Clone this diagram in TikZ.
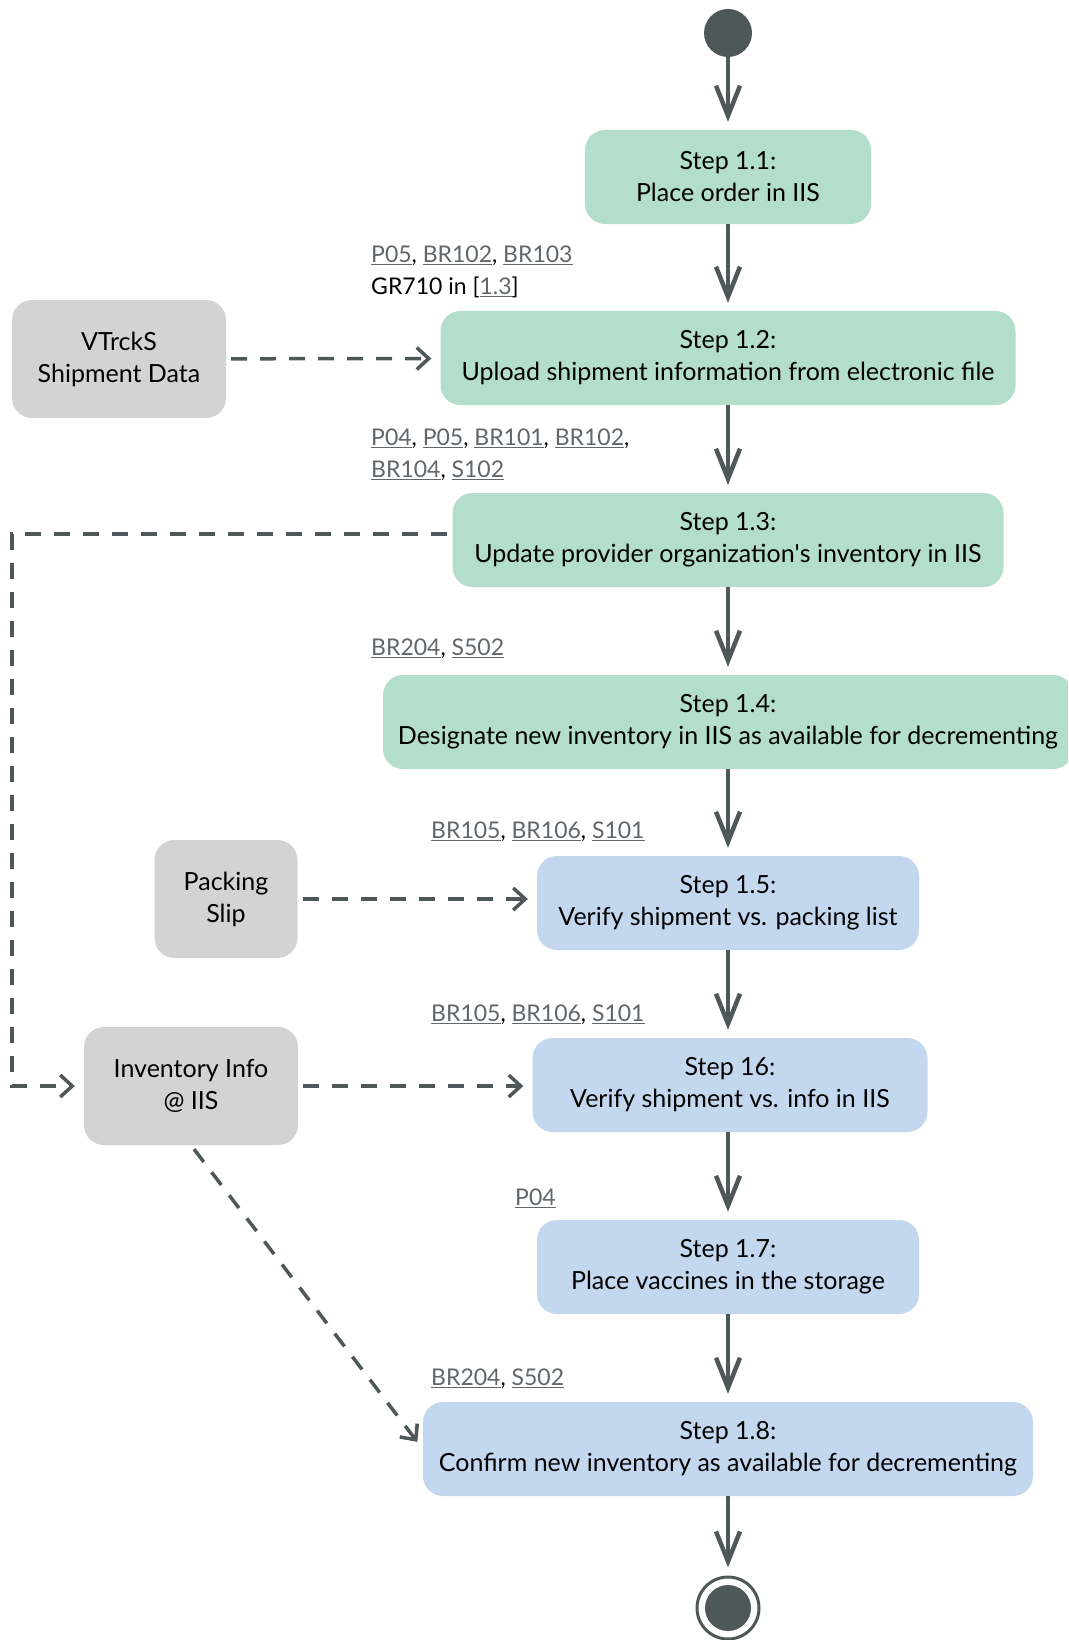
\documentclass[tikz,border=0pt]{standalone}
\usepackage{fontspec}
\setmainfont{Lato}
\usetikzlibrary{arrows.meta}
\definecolor{stepgrn}{HTML}{B3DECC}
\definecolor{stepblu}{HTML}{C3D8EF}
\definecolor{datagry}{HTML}{D3D3D3}
\definecolor{flowcol}{HTML}{4F5858}
\definecolor{lnkcol}{HTML}{60666A}
\newcommand{\lnk}[1]{\textcolor{lnkcol}{\underline{#1}}}
\tikzset{
  stepbox/.style={rounded corners=20pt, align=center, minimum height=94pt, inner sep=0pt},
  stepgreen/.style={stepbox, fill=stepgrn},
  stepblue/.style={stepbox, fill=stepblu},
  databox/.style={stepbox, fill=datagry, minimum height=118pt},
  flow/.style={draw=flowcol, line width=4.5pt, -{Straight Barb[length=30pt,width=24pt]}, shorten >=8pt},
  flowdash/.style={draw=flowcol, line width=3.5pt, dash pattern=on 16pt off 13pt, -{Straight Barb[length=12pt,width=22pt]}, shorten >=9pt, shorten <=5pt},
  reflabel/.style={anchor=west, inner sep=0pt, align=left, font=\fontsize{23}{32}\selectfont}
}
\begin{document}
\begin{tikzpicture}[x=1pt,y=-1pt,font=\fontsize{25}{32}\selectfont]
    \path[use as bounding box, clip] (0,0) rectangle (1068,1640);
    \node[circle, fill=flowcol, minimum size=48pt, inner sep=0pt] (start) at (728,33) {};
    \node[stepgreen, minimum width=286pt] (s11) at (728,177) {Step 1.1:\\Place order in IIS};
    \node[stepgreen, minimum width=575pt] (s12) at (728,358) {Step 1.2:\\Upload shipment information from electronic file};
    \node[stepgreen, minimum width=551pt] (s13) at (728,540) {Step 1.3:\\Update provider organization\textquotesingle s inventory in IIS};
    \node[stepgreen, minimum width=690pt] (s14) at (728,722) {Step 1.4:\\Designate new inventory in IIS as available for decrementing};
    \node[stepblue, minimum width=382pt] (s15) at (728,903) {Step 1.5:\\Verify shipment vs. packing list};
    \node[stepblue, minimum width=395pt] (s16) at (730,1085) {Step 16:\\Verify shipment vs. info in IIS};
    \node[stepblue, minimum width=382pt] (s17) at (728,1267) {Step 1.7:\\Place vaccines in the storage};
    \node[stepblue, minimum width=610pt] (s18) at (728,1449) {Step 1.8:\\Confirm new inventory as available for decrementing};
    \node[circle, draw=flowcol, line width=3pt, minimum size=62pt, inner sep=0pt] (stop) at (728,1608) {};
    \node[circle, fill=flowcol, minimum size=46pt, inner sep=0pt] at (stop) {};
    \node[databox, minimum width=214pt] (vtrcks) at (119,359) {VTrckS\\Shipment Data};
    \node[databox, minimum width=143pt] (slip) at (226,899) {Packing\\Slip};
    \node[databox, minimum width=214pt] (inv) at (191,1086) {Inventory Info\\@ IIS};
    \coordinate (lft) at (12,800);
    \node[reflabel] (r12) at (371,272) {\lnk{P05}, \lnk{BR102}, \lnk{BR103}\\GR710 in [\lnk{1.3}]};
    \node[reflabel] (r13) at (371,455) {\lnk{P04}, \lnk{P05}, \lnk{BR101}, \lnk{BR102},\\\lnk{BR104}, \lnk{S102}};
    \node[reflabel] (r14) at (371,649) {\lnk{BR204}, \lnk{S502}};
    \node[reflabel] (r15) at (431,832) {\lnk{BR105}, \lnk{BR106}, \lnk{S101}};
    \node[reflabel] (r16) at (431,1015) {\lnk{BR105}, \lnk{BR106}, \lnk{S101}};
    \node[reflabel] (r17) at (515,1198) {\lnk{P04}};
    \node[reflabel] (r18) at (431,1379) {\lnk{BR204}, \lnk{S502}};
    \draw[flow] (start) -- (s11);
    \draw[flow] (s11) -- (s12);
    \draw[flow] (s12) -- (s13);
    \draw[flow] (s13) -- (s14);
    \draw[flow] (s14) -- (s15);
    \draw[flow] (s15) -- (s16.north -| s15.south);
    \draw[flow] (s16.south -| s17.north) -- (s17);
    \draw[flow] (s17) -- (s18);
    \draw[flow] (s18) -- (stop);
    \draw[flowdash] (vtrcks) -- (s12);
    \draw[flowdash] (slip) -- (slip -| s15.west);
    \draw[flowdash] (inv) -- (inv -| s16.west);
    \draw[flowdash] ([yshift=6pt]s13.west) -| (lft) |- (inv.west);
    \draw[flowdash] (inv.south) -- (s18.west);
\end{tikzpicture}
\end{document}
